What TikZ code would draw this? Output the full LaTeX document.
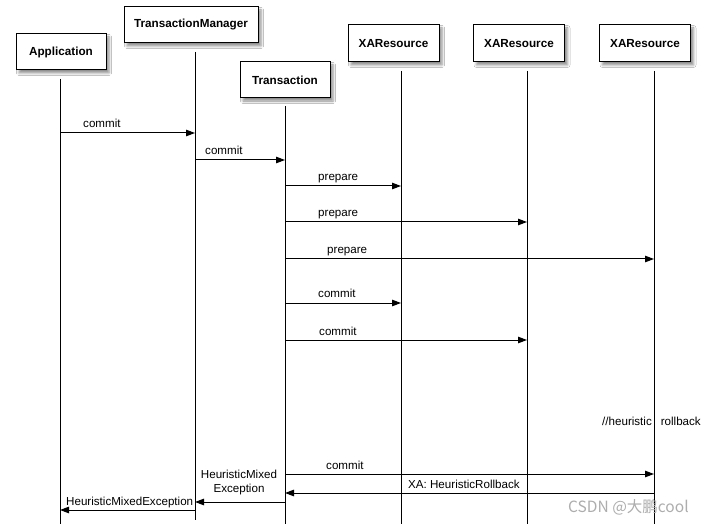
\documentclass[tikz,border=0pt]{standalone}
\usepackage{fontspec}
\setmainfont{Liberation Sans}
\newfontfamily\cjkfont{Noto Sans CJK SC}
\usetikzlibrary{arrows.meta,shadows.blur}
\begin{document}
\begin{tikzpicture}[x=1pt,y=-1pt,
  actor/.style={draw,line width=1pt,fill=white,minimum height=36pt,minimum width=90pt,inner sep=0pt,
    font=\fontsize{11.7}{14}\selectfont\bfseries,
    blur shadow={shadow xshift=3pt,shadow yshift=-3pt,shadow blur radius=2.5pt,shadow opacity=45}},
  life/.style={line width=1pt},
  msg/.style={line width=1pt,-{Triangle[length=9pt,width=6.5pt]}},
  lbl/.style={anchor=base west,inner sep=0pt,font=\fontsize{11.6}{14}\selectfont}
]
\useasboundingbox[fill=white] (0,0) rectangle (705,524);

% participants
\node[actor] (app) at (61,52) {Application};
\node[actor,minimum width=134pt] (tm) at (191,25) {TransactionManager};
\node[actor] (tx) at (285,80) {Transaction};
\node[actor,minimum height=37pt,minimum width=91pt] (xa1) at (393.5,43.5) {XAResource};
\node[actor,minimum height=37pt,minimum width=91pt] (xa2) at (519,43.5) {XAResource};
\node[actor,minimum height=37pt,minimum width=91pt] (xa3) at (645,43.5) {XAResource};

% lifelines
\coordinate (appT) at (60,79);   \coordinate (appB) at (60,524);
\coordinate (tmT) at (195,52);   \coordinate (tmB) at (195,520);
\coordinate (txT) at (285,106);  \coordinate (txB) at (285,524);
\coordinate (xa1T) at (401,71);  \coordinate (xa1B) at (401,524);
\coordinate (xa2T) at (527,71);  \coordinate (xa2B) at (527,524);
\coordinate (xa3T) at (654,71);  \coordinate (xa3B) at (654,524);
\draw[life] (appT) -- (appB);
\draw[life] (tmT) -- (tmB);
\draw[life] (txT) -- (txB);
\draw[life] (xa1T) -- (xa1B);
\draw[life] (xa2T) -- (xa2B);
\draw[life] (xa3T) -- (xa3B);

% messages
\draw[msg] (appT |- 0,133) -- (tmT |- 0,133);
\node[lbl] at (83,128) {commit};
\draw[msg] (tmT |- 0,160) -- (txT |- 0,160);
\node[lbl] at (205,155) {commit};
\draw[msg] (txT |- 0,186) -- (xa1T |- 0,186);
\node[lbl] at (318,181) {prepare};
\draw[msg] (txT |- 0,222) -- (xa2T |- 0,222);
\node[lbl] at (318,217) {prepare};
\draw[msg] (txT |- 0,259) -- (xa3T |- 0,259);
\node[lbl] at (327,254) {prepare};
\draw[msg] (txT |- 0,303) -- (xa1T |- 0,303);
\node[lbl] at (318,298) {commit};
\draw[msg] (txT |- 0,340) -- (xa2T |- 0,340);
\node[lbl] at (319,335) {commit};

\node[lbl] at (602,425) {//heuristic\hspace{9pt}rollback};

\draw[msg] (txT |- 0,474) -- (xa3T |- 0,474);
\node[lbl] at (326,469) {commit};
\draw[msg] (xa3T |- 0,493) -- (txT |- 0,493);
\node[lbl] at (408,488) {XA: HeuristicRollback};
\draw[msg] (txT |- 0,502) -- (tmT |- 0,502);
\node[align=center,inner sep=0pt,font=\fontsize{11.6}{14}\selectfont] at (239,482) {HeuristicMixed\\Exception};
\draw[msg] (tmT |- 0,510) -- (appT |- 0,510);
\node[lbl] at (66,505) {HeuristicMixedException};

% watermark
\node[anchor=base west,inner sep=0pt,text=black!32,font=\cjkfont\fontsize{15.5}{18}\selectfont] at (568,512) {CSDN @大鹏cool};
\end{tikzpicture}
\end{document}
